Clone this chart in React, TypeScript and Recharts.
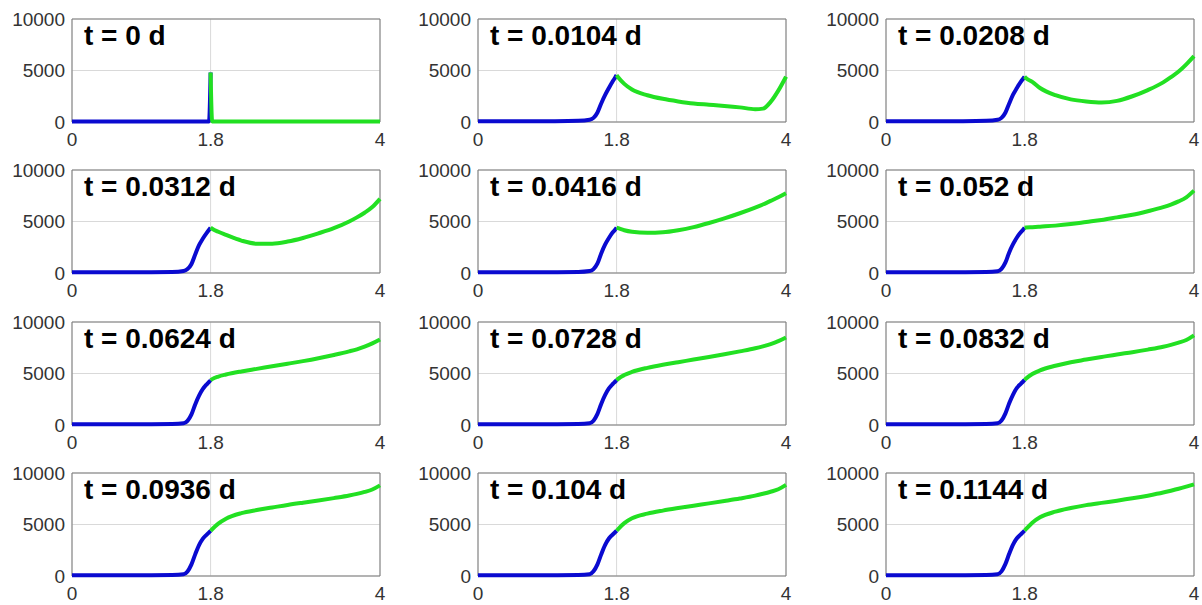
import React from "react";
import { LineChart, Line, XAxis, YAxis, CartesianGrid, ReferenceArea } from "recharts";

// time stamp of each snapshot, in reading order (row by row)
const times = ["0", "0.0104", "0.0208", "0.0312", "0.0416", "0.052", "0.0624", "0.0728", "0.0832", "0.0936", "0.104", "0.1144"];

// sample positions of the two segments
const blueX = [0, 0.5, 1.0, 1.3, 1.45, 1.5, 1.55, 1.6, 1.65, 1.7, 1.75, 1.78, 1.8];
const greenX = [1.8, 1.82, 1.9, 2.0, 2.2, 2.4, 2.6, 2.8, 3.0, 3.2, 3.4, 3.6, 3.7, 3.8, 3.9, 4.0];

// left segment (0 .. 1.8) per snapshot
const blueY = [
  [60, 60, 60, 60, 60, 60, 60, 60, 60, 60, 60, 60, 4800],
  [70, 70, 80, 110, 220, 400, 900, 1800, 2600, 3300, 3950, 4300, 4550],
  [70, 70, 80, 110, 210, 400, 900, 1800, 2650, 3300, 3900, 4200, 4400],
  [70, 70, 80, 100, 200, 380, 850, 1800, 2700, 3350, 3900, 4200, 4400],
  [70, 70, 80, 100, 190, 380, 900, 1900, 2750, 3400, 3950, 4200, 4400],
  [70, 70, 80, 100, 180, 400, 1000, 2000, 2800, 3450, 3950, 4200, 4400],
  [70, 70, 80, 100, 170, 400, 1000, 2000, 2850, 3500, 3950, 4180, 4350],
  [70, 70, 80, 100, 170, 420, 1050, 2050, 2900, 3550, 3980, 4200, 4350],
  [70, 70, 80, 100, 170, 430, 1100, 2100, 2950, 3600, 4000, 4220, 4370],
  [70, 70, 80, 100, 170, 440, 1100, 2100, 3000, 3630, 4020, 4240, 4390],
  [70, 70, 80, 100, 170, 450, 1100, 2100, 3000, 3640, 4030, 4250, 4400],
  [70, 70, 80, 100, 170, 450, 1150, 2150, 3050, 3660, 4040, 4260, 4410],
];

// right segment (1.8 .. 4) per snapshot
const greenY = [
  [4800, 60, 60, 60, 60, 60, 60, 60, 60, 60, 60, 60, 60, 60, 60, 60],
  [4550, 4350, 3700, 3150, 2600, 2250, 2000, 1800, 1680, 1560, 1420, 1250, 1300, 1950, 3050, 4400],
  [4400, 4250, 3900, 3300, 2600, 2200, 2000, 1900, 2050, 2500, 3100, 3850, 4350, 4900, 5600, 6400],
  [4400, 4300, 4000, 3700, 3150, 2850, 2850, 3050, 3400, 3850, 4350, 5000, 5400, 5850, 6400, 7200],
  [4400, 4350, 4150, 4000, 3900, 3950, 4150, 4450, 4850, 5300, 5800, 6350, 6650, 7000, 7350, 7750],
  [4400, 4420, 4450, 4500, 4600, 4750, 4950, 5150, 5400, 5650, 6000, 6400, 6650, 6950, 7350, 8000],
  [4350, 4450, 4700, 4900, 5200, 5450, 5700, 5950, 6200, 6480, 6800, 7150, 7350, 7600, 7920, 8300],
  [4350, 4480, 4850, 5150, 5550, 5850, 6100, 6350, 6600, 6870, 7150, 7450, 7640, 7860, 8140, 8500],
  [4370, 4510, 4950, 5300, 5750, 6100, 6350, 6600, 6850, 7070, 7320, 7600, 7780, 7990, 8250, 8700],
  [4390, 4540, 5080, 5560, 6100, 6400, 6650, 6900, 7120, 7330, 7560, 7810, 7970, 8160, 8400, 8800],
  [4400, 4560, 5130, 5600, 6050, 6350, 6600, 6830, 7050, 7280, 7520, 7800, 7980, 8180, 8420, 8850],
  [4410, 4570, 5180, 5700, 6250, 6600, 6880, 7100, 7310, 7540, 7800, 8100, 8280, 8470, 8680, 8900],
];

const xTicks = [0, 1.8, 4];
const yTicks = [0, 5000, 10000];

// plot-area placement of each column / row
const colLeft = [72, 478, 886];
const rowTop = [19, 170, 322, 473];
const PLOT_W = 308;
const PLOT_H = 103;
const M_LEFT = 70;
const M_TOP = 14;
const M_RIGHT = 14;
const M_BOTTOM = 32;

const BLUE = "#0a0ad0";
const GREEN = "#22e022";
const FONT = "'Liberation Sans', Arial, sans-serif";
const tickStyle = { fill: "#333333", fontSize: 19, fontFamily: FONT };

function buildRows(i: number) {
  const rows: { x: number; blue?: number; green?: number }[] = [];
  blueX.forEach((x, k) => {
    rows.push({ x, blue: blueY[i][k] });
  });
  greenX.forEach((x, k) => {
    if (k === 0) {
      rows[rows.length - 1].green = greenY[i][k];
    } else {
      rows.push({ x, green: greenY[i][k] });
    }
  });
  return rows;
}

function Panel({ i }: { i: number }) {
  const col = i % 3;
  const row = Math.floor(i / 3);
  const left = colLeft[col] - M_LEFT;
  const top = rowTop[row] - M_TOP;
  return (
    <div style={{ position: "absolute", left, top }}>
      <LineChart
        width={M_LEFT + PLOT_W + M_RIGHT}
        height={M_TOP + PLOT_H + M_BOTTOM}
        data={buildRows(i)}
        margin={{ top: M_TOP, right: M_RIGHT, bottom: 0, left: 0 }}
      >
        <CartesianGrid stroke="#d9d9d9" strokeWidth={1} />
        <XAxis
          dataKey="x"
          type="number"
          domain={[0, 4]}
          ticks={xTicks}
          interval={0}
          height={M_BOTTOM}
          axisLine={false}
          tickLine={false}
          tickSize={5}
          tickMargin={6}
          tick={tickStyle}
        />
        <YAxis
          type="number"
          domain={[0, 10000]}
          ticks={yTicks}
          interval={0}
          width={M_LEFT}
          axisLine={false}
          tickLine={false}
          tickSize={5}
          tickMargin={2}
          tick={tickStyle}
        />
        <ReferenceArea x1={0} x2={4} y1={0} y2={10000} fill="none" stroke="#7a7a7a" strokeWidth={1} />
        <Line
          dataKey="blue"
          type="monotone"
          stroke={BLUE}
          strokeWidth={4}
          dot={false}
          activeDot={false}
          isAnimationActive={false}
        />
        <Line
          dataKey="green"
          type="monotone"
          stroke={GREEN}
          strokeWidth={4}
          dot={false}
          activeDot={false}
          isAnimationActive={false}
        />
      </LineChart>
      <div
        style={{
          position: "absolute",
          left: M_LEFT + 12,
          top: M_TOP + 3,
          fontFamily: FONT,
          fontWeight: "bold",
          fontSize: 28,
          lineHeight: "28px",
          color: "#000",
          whiteSpace: "nowrap",
        }}
      >
        {`t = ${times[i]} d`}
      </div>
    </div>
  );
}

export default function App() {
  return (
    <div
      style={{
        position: "absolute",
        left: 0,
        top: 0,
        width: 1202,
        height: 605,
        background: "#fff",
        overflow: "hidden",
      }}
    >
      {times.map((_, i) => (
        <Panel key={i} i={i} />
      ))}
    </div>
  );
}
